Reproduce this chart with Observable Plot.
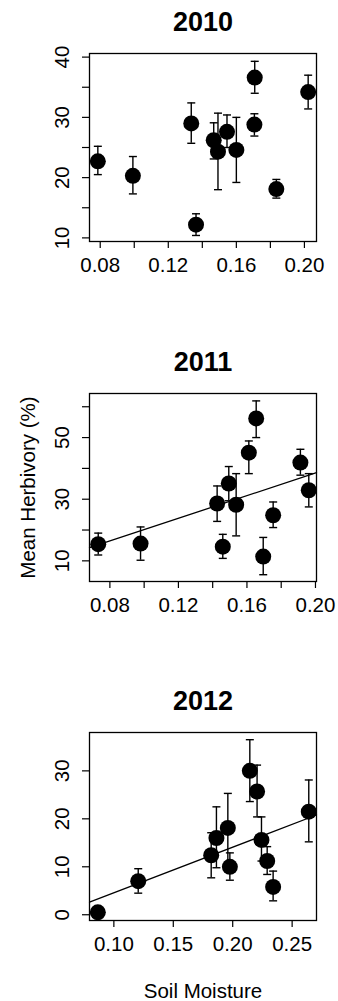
<!DOCTYPE html>
<html>
<head>
<meta charset="utf-8">
<script src="https://cdn.jsdelivr.net/npm/d3@7"></script>
<script src="https://cdn.jsdelivr.net/npm/@observablehq/plot@0.6"></script>
<style>
  html, body { margin: 0; padding: 0; background: #fff; }
  #wrap { position: relative; width: 338px; height: 1001px; overflow: hidden; background: #fff; }
  #wrap svg { position: absolute; left: 0; }
</style>
</head>
<body>
<div id="wrap"></div>
<script>
// ---- Data ----
const years = ["2010", "2011", "2012"];

const moist2010 = [0.0786, 0.0992, 0.1335, 0.1363, 0.1467, 0.1492, 0.1545, 0.1600, 0.1708, 0.1706, 0.1835, 0.2022];
const herb2010  = [22.7, 20.3, 29.0, 12.2, 26.2, 24.3, 27.6, 24.6, 36.6, 28.8, 18.1, 34.2];
const hi2010    = [25.2, 23.5, 32.4, 14.0, 29.1, 30.7, 30.4, 30.0, 39.3, 30.6, 19.7, 37.0];
const lo2010    = [20.5, 17.3, 25.7, 10.4, 23.1, 18.0, 25.0, 19.2, 34.0, 26.9, 16.6, 31.4];

const moist2011 = [0.0732, 0.0979, 0.1426, 0.1459, 0.1494, 0.1537, 0.1611, 0.1654, 0.1695, 0.1753, 0.1912, 0.1961];
const herb2011  = [15.4, 15.6, 28.6, 14.6, 35.1, 28.2, 45.1, 56.2, 11.4, 24.8, 41.9, 32.9];
const hi2011    = [19.0, 21.0, 34.3, 18.6, 40.6, 38.3, 48.9, 61.9, 17.6, 29.1, 46.2, 38.3];
const lo2011    = [11.9, 10.2, 22.8, 10.8, 29.5, 18.1, 38.3, 50.0, 5.5, 20.8, 37.8, 27.5];

const moist2012 = [0.0865, 0.1205, 0.1819, 0.1863, 0.1959, 0.1976, 0.2144, 0.2205, 0.2242, 0.2290, 0.2340, 0.2640];
const herb2012  = [0.5, 7.0, 12.4, 16.0, 18.1, 10.0, 30.0, 25.7, 15.6, 11.2, 5.8, 21.5];
const hi2012    = [0.5, 9.6, 17.1, 22.5, 25.3, 12.9, 36.5, 31.2, 20.4, 14.2, 9.1, 28.1];
const lo2012    = [0.5, 4.5, 7.7, 9.8, 10.5, 7.2, 23.6, 20.4, 11.2, 8.4, 2.9, 15.2];

// fitted regression lines (intercept, slope); null = no line
const fitIntercept = [null, 1.81, -4.9];
const fitSlope     = [null, 183.4, 95.0];

// axis domains, ticks and labelled ticks
const xDomains = [[0.0737, 0.2071], [0.0681, 0.2006], [0.0795, 0.2705]];
const yDomains = [[9.4, 40.6], [3.3, 64.3], [-1.2, 38.0]];
const xTicks = [[0.08, 0.10, 0.12, 0.14, 0.16, 0.18, 0.20], [0.08, 0.10, 0.12, 0.14, 0.16, 0.18, 0.20], [0.10, 0.15, 0.20, 0.25]];
const xLabels = [[0.08, 0.12, 0.16, 0.20], [0.08, 0.12, 0.16, 0.20], [0.10, 0.15, 0.20, 0.25]];
const yTicks = [[10, 15, 20, 25, 30, 35, 40], [10, 20, 30, 40, 50, 60], [0, 10, 20, 30]];
const yLabels = [[10, 20, 30, 40], [10, 30, 50], [0, 10, 20, 30]];

const yTitle = "Mean Herbivory (%)";
const xTitle = "Soil Moisture";

// ---- Build ----
const moist = [moist2010, moist2011, moist2012];
const herb = [herb2010, herb2011, herb2012];
const his = [hi2010, hi2011, hi2012];
const los = [lo2010, lo2011, lo2012];

const FONT = "'Liberation Sans', Arial, Helvetica, sans-serif";
const FS = 20.5;
const tops = [0, 340, 679];
const heights = [340, 339, 322];

const capSymbol = {
  draw(ctx, size) {
    const r = Math.sqrt(size / Math.PI);
    ctx.moveTo(-r, 0);
    ctx.lineTo(r, 0);
  }
};

const wrap = document.getElementById("wrap");
const fmt = d3.format(".2f");

years.forEach((yr, i) => {
  const rows = moist[i].map((m, j) => ({ x: m, y: herb[i][j], hi: his[i][j], lo: los[i][j] }));
  const bars = rows.filter(d => d.hi !== d.lo);
  const H = heights[i];
  const marks = [
    Plot.axisX({
      ticks: xTicks[i], tickSize: 7, tickPadding: 9, fontSize: FS, label: null,
      tickFormat: d => xLabels[i].some(v => Math.abs(v - d) < 1e-9) ? fmt(d) : "",
      strokeWidth: 1.2
    }),
    Plot.axisY({ ticks: yTicks[i], tickSize: 7, tickFormat: () => "", label: null, strokeWidth: 1.2 }),
    Plot.text(yLabels[i], {
      y: d => d, text: d => String(d), frameAnchor: "left", dx: -27,
      rotate: -90, textAnchor: "middle", lineAnchor: "middle", fontSize: FS, fill: "black"
    }),
    Plot.ruleX(bars, { x: "x", y1: "lo", y2: "hi", stroke: "black", strokeWidth: 1.4 }),
    Plot.dot(bars, { x: "x", y: "hi", r: 4, symbol: capSymbol, stroke: "black", strokeWidth: 1.4 }),
    Plot.dot(bars, { x: "x", y: "lo", r: 4, symbol: capSymbol, stroke: "black", strokeWidth: 1.4 }),
    Plot.dot(rows, { x: "x", y: "y", r: 8, fill: "black", stroke: "none" }),
    Plot.frame({ stroke: "black", strokeWidth: 1.3 }),
    Plot.text([yr], {
      text: d => d, frameAnchor: "top", dy: -31, fontSize: 27, fontWeight: "bold",
      lineAnchor: "middle", fill: "black"
    })
  ];
  if (fitSlope[i] !== null) {
    const line = xDomains[i].map(x => ({ x, y: fitIntercept[i] + fitSlope[i] * x }));
    marks.splice(3, 0, Plot.line(line, { x: "x", y: "y", stroke: "black", strokeWidth: 1.3 }));
  }
  if (i === 1) {
    marks.push(Plot.text([yTitle], {
      text: d => d, frameAnchor: "left", dx: -61, rotate: -90,
      textAnchor: "middle", lineAnchor: "middle", fontSize: FS, fill: "black"
    }));
  }
  if (i === 2) {
    marks.push(Plot.text([xTitle], {
      text: d => d, frameAnchor: "bottom", dy: 71, lineAnchor: "middle",
      fontSize: FS, fill: "black"
    }));
  }
  const chart = Plot.plot({
    width: 338, height: H,
    marginLeft: 89, marginRight: 22, marginTop: 53, marginBottom: H - 241,
    x: { domain: xDomains[i] },
    y: { domain: yDomains[i] },
    style: { fontFamily: FONT, fontSize: FS + "px", color: "black", background: "transparent", overflow: "visible" },
    marks
  });
  chart.style.top = tops[i] + "px";
  wrap.appendChild(chart);
});
</script>
</body>
</html>
